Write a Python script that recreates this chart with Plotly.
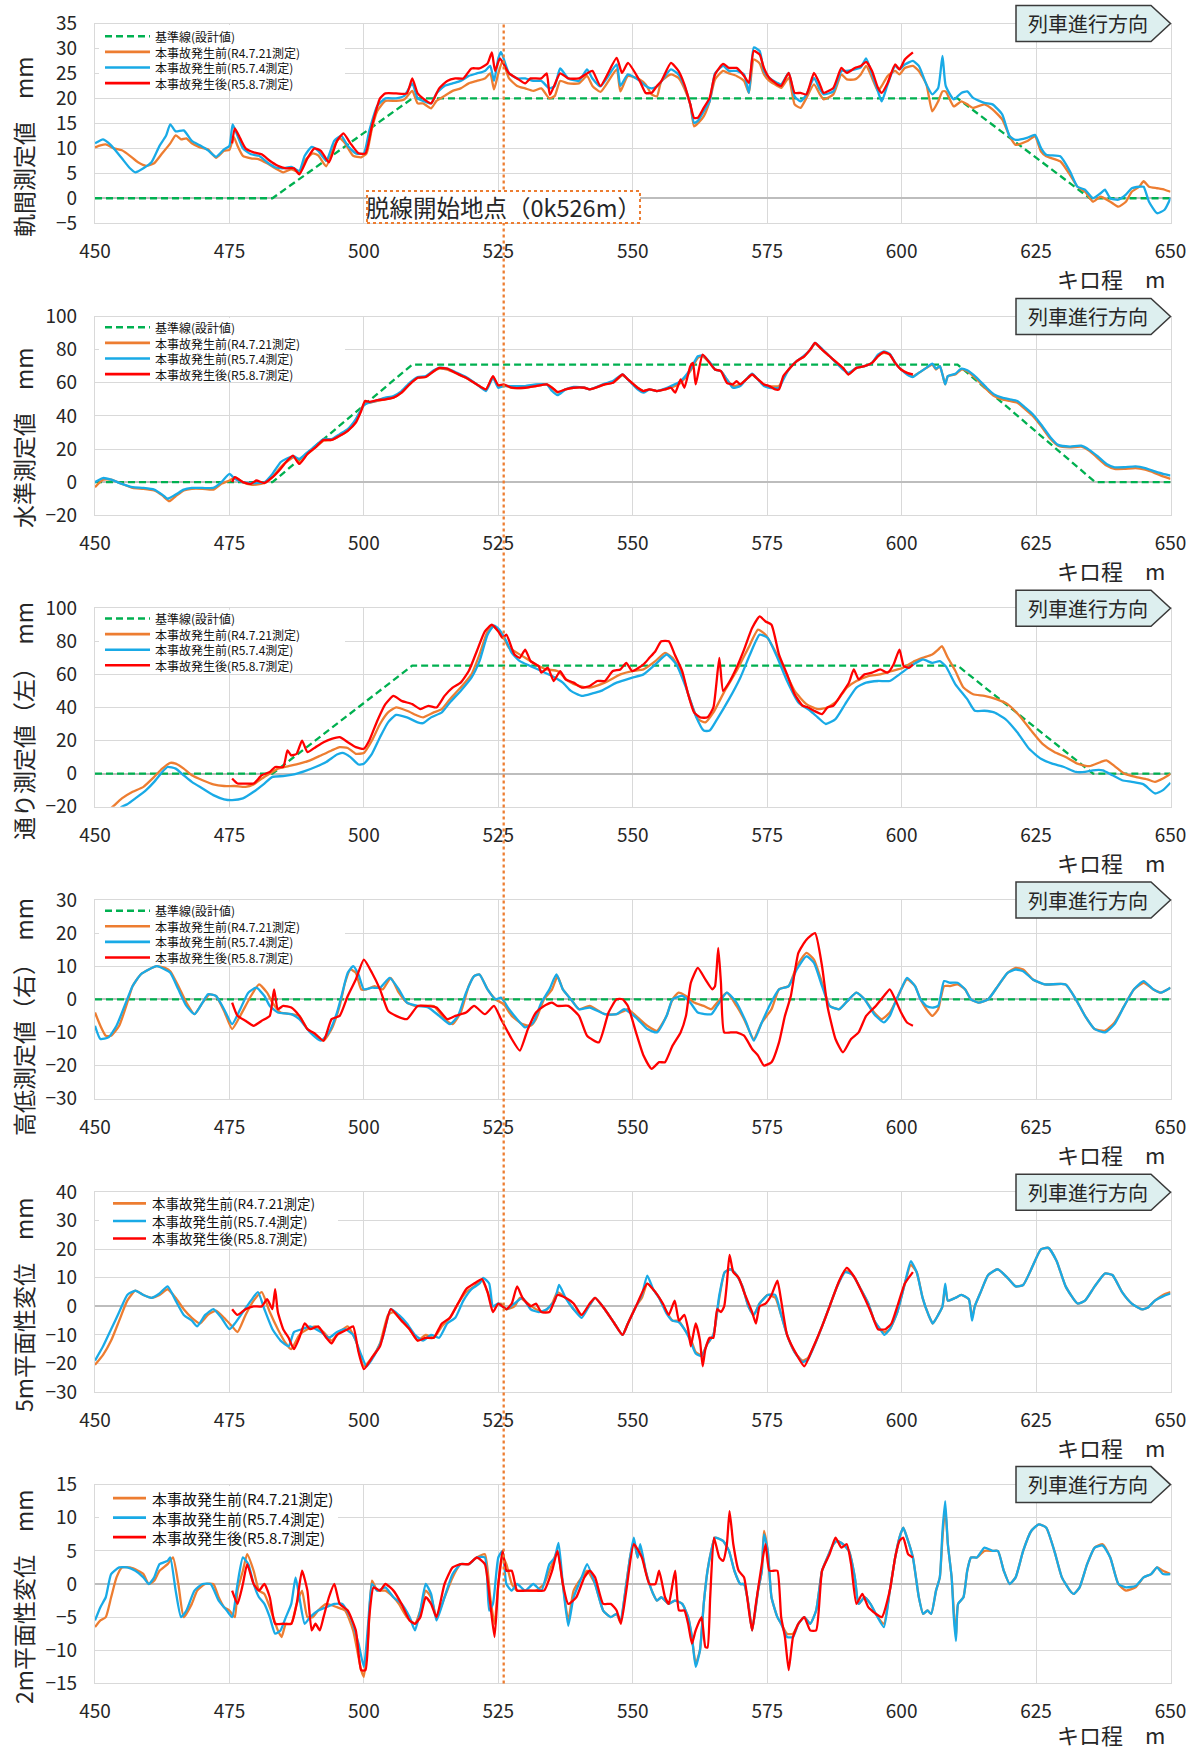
import plotly.graph_objects as go

# ---------------------------------------------------------------------------
# Track measurement data: (kilometrage m, measured value mm)
# ---------------------------------------------------------------------------
KM_TICKS = [450, 475, 500, 525, 550, 575, 600, 625, 650]

# --- 軌間 (gauge) ---
GAUGE_DESIGN = [(450, 0), (483, 0), (509, 20), (610.4, 20), (635, 0), (650, 0)]
GAUGE_R4 = [(450,10.2),(451,10.6),(452,10.8),(453.5,10.0),(455,9.6),(456.5,8.5),(458,7.2),(459.5,6.5),(461,7.0),(462.5,9.0),(464,11.0),(465,12.6),(466,11.8),(467,12.0),(468,11.0),(469.5,10.2),(471,9.8),(472.5,8.1),(474,9.5),(475,9.7),(475.8,12.3),(476.5,10.5),(477.5,8.5),(479,8.0),(480.5,7.8),(482,7.0),(483.5,6.0),(485,5.2),(486.5,5.8),(488,5.2),(489,7.5),(490.5,9.0),(491.5,8.6),(493,6.4),(494.5,10.5),(495.5,12.0),(496.5,11.0),(498,8.5),(499.5,8.2),(500.5,9.0),(501.5,14.0),(502.5,17.5),(504,19.5),(506,19.5),(507.5,19.8),(509,21.5),(510,19.0),(511,19.0),(512.5,18.0),(513.5,19.5),(515,20.5),(516.5,21.5),(518,22.0),(519.5,23.0),(521,23.5),(522.5,24.0),(523.5,25.0),(524.2,21.8),(525,25.0),(525.8,27.5),(527,24.0),(528.5,22.5),(530,22.0),(531.5,21.5),(533,22.0),(534.5,20.0),(535.5,20.5),(536.5,23.5),(538,23.0),(540,23.0),(541.5,24.5),(542.5,22.5),(544,21.3),(547,25.8),(547.7,21.4),(549.1,24.5),(551.3,23.8),(552.4,22.8),(553.5,20.8),(554.5,20.4),(555.3,23.4),(557.1,24.8),(558.5,24.1),(559.6,22.0),(560.7,18.8),(561.4,14.4),(562.1,15.0),(563.2,16.4),(564.3,19.4),(565.3,23.8),(566.8,25.5),(567.9,25.0),(569.3,24.5),(570.7,23.5),(571.6,21.1),(572.5,27.8),(573.6,27.0),(574.4,24.8),(575.4,23.5),(576.9,22.5),(577.6,22.1),(579.0,24.1),(580.1,18.8),(581.2,18.1),(582.3,20.1),(583.7,22.8),(584.8,20.8),(585.5,19.8),(587.3,20.8),(588.8,24.8),(589.8,23.8),(591.3,23.8),(592.4,24.8),(593.4,26.5),(594.5,24.1),(595.6,21.5),(596.3,22.5),(597.4,24.5),(598.8,25.5),(599.6,24.8),(600.6,26.1),(602.1,26.5),(603.2,25.5),(604.6,22.8),(605.7,17.4),(606.8,19.4),(607.6,21.4),(608.2,21.4),(609.7,18.4),(611.1,19.4),(612.2,18.8),(613.3,18.1),(615.4,18.8),(616.9,17.8),(618.7,15.8),(620.1,12.4),(621.2,10.7),(623.3,11.4),(624.8,12.4),(625.9,9.4),(626.9,8.4),(629.5,7.4),(631.3,4.7),(632.7,2.3),(634.1,1.3),(635.6,-0.7),(637.0,0.3),(638.8,-0.7),(640.3,-1.7),(641.7,-0.7),(642.8,1.3),(644.2,2.3),(645.0,3.4),(646.0,2.3),(647.5,2.0),(648.9,1.7),(650,1.3)]
GAUGE_R5_BEFORE = [(450,11.0),(451.5,11.8),(453,10.6),(455,8.0),(456.5,6.0),(457.5,5.2),(459,6.0),(460.5,7.2),(462,10.5),(463.2,12.5),(464,14.8),(465,13.4),(466.5,13.6),(468,11.5),(469.5,10.6),(471,9.6),(472.5,8.3),(474,9.8),(475,10.5),(475.6,14.8),(476.5,12.5),(477.5,10.0),(479,8.8),(480.5,8.5),(482,7.2),(483.5,6.2),(485,6.0),(486.5,6.3),(488,5.5),(489,8.5),(490.3,10.3),(491.5,9.5),(493,7.5),(494.5,11.5),(495.8,12.5),(497,10.5),(498.5,9.0),(500,9.0),(501,13.5),(502.5,18.5),(504,20.0),(506,20.0),(507.5,20.5),(509,23.0),(510,20.0),(511,19.5),(512.5,19.0),(513.5,21.0),(515,22.5),(516.5,23.0),(518,23.5),(519.5,24.5),(521,25.0),(522.5,25.5),(523.5,26.5),(524.2,23.5),(525,28.0),(525.5,29.3),(527,25.0),(528.5,24.0),(530,24.0),(531.5,23.5),(533,23.5),(534.5,22.0),(535.5,22.5),(536.5,26.0),(538,24.0),(540,23.5),(541.5,25.8),(542.5,24.0),(544,22.4),(547,26.8),(547.7,22.5),(549.1,24.8),(551.3,23.5),(552.4,22.5),(553.5,22.0),(554.5,22.4),(555.3,23.4),(557.1,25.8),(558.5,24.8),(559.6,22.5),(560.7,18.8),(561.4,15.1),(562.1,15.5),(563.2,17.4),(564.3,19.4),(565.3,25.0),(566.8,26.5),(567.9,25.5),(569.3,25.5),(570.7,24.8),(571.6,21.1),(572.5,30.2),(573.6,29.5),(574.4,25.5),(575.4,24.1),(576.9,23.1),(577.6,22.8),(579.0,25.1),(580.1,20.4),(581.2,19.4),(582.3,20.8),(583.7,24.1),(584.8,21.8),(585.5,20.8),(587.3,21.4),(588.8,25.5),(589.8,25.5),(591.3,25.8),(592.4,26.2),(593.4,28.0),(594.5,24.8),(595.6,21.4),(596.3,19.4),(597.4,22.8),(598.8,26.5),(599.6,25.8),(600.6,26.8),(602.1,27.5),(603.2,26.5),(604.6,22.8),(605.7,20.8),(606.8,22.1),(607.6,28.5),(608.2,22.5),(609.7,19.8),(611.1,21.1),(612.2,21.4),(613.3,20.1),(615.4,19.1),(616.9,18.8),(618.7,16.8),(620.1,12.4),(621.2,11.7),(623.3,12.1),(624.8,12.7),(625.9,10.1),(626.9,8.7),(629.5,8.4),(631.3,5.4),(632.7,2.3),(634.1,1.7),(635.6,0.0),(637.0,1.0),(637.8,1.7),(638.8,0.0),(640.3,-0.3),(641.7,0.7),(642.8,2.0),(644.2,2.3),(645.0,2.3),(646.0,-0.7),(647.5,-3.0),(648.9,-2.3),(650,0.0)]
GAUGE_R5_AFTER = [(475.5,11.0),(476,14.0),(477,12.0),(478,10.0),(479.5,9.2),(481,8.8),(482.5,7.5),(484,6.5),(485.5,6.0),(487,6.0),(488,4.8),(489.5,8.0),(490.8,10.0),(492,9.5),(493.5,7.2),(495,11.5),(496.2,13.0),(497.5,11.0),(499,9.0),(500.3,9.0),(501.5,14.5),(503,20.0),(504,21.0),(506,21.0),(508,21.0),(509,24.0),(510,21.0),(511,20.0),(512.5,19.0),(514,22.0),(515.5,23.5),(517,24.0),(518.5,24.0),(520,26.0),(521.5,26.0),(523,27.0),(523.8,29.2),(524.4,25.5),(525.3,28.0),(527,25.0),(528.5,24.0),(530,23.0),(531,24.0),(533,24.0),(534,25.0),(534.6,20.7),(536.5,25.0),(538,24.0),(540,24.0),(541.5,25.0),(542.5,25.5),(544,22.5),(547,28.1),(548,25.1),(549.1,27.1),(551.3,23.5),(552.4,21.1),(553.5,21.1),(554.5,22.5),(555.3,23.4),(557.1,27.1),(558.5,25.5),(559.6,22.8),(560.7,18.8),(561.4,16.1),(562.1,16.1),(563.2,18.1),(564.3,20.1),(565.3,24.8),(566.8,26.9),(567.9,26.1),(569.3,26.1),(570.7,24.5),(571.6,23.1),(572.5,29.5),(573.6,28.8),(574.4,26.1),(575.4,24.1),(576.9,22.8),(577.6,22.5),(579.0,25.1),(580.1,21.1),(581.2,21.1),(582.3,20.8),(583.7,25.1),(584.8,22.8),(585.5,21.1),(587.3,22.1),(588.8,26.1),(589.8,25.1),(591.3,26.1),(592.4,26.5),(593.4,27.3),(594.5,25.5),(595.6,22.1),(596.3,21.1),(597.4,23.1),(598.8,26.8),(599.6,25.8),(600.6,27.8),(602.1,29.2)]

# --- 水準 (cross level) ---
LEVEL_DESIGN = [(450, 0), (483, 0), (509, 71), (610.4, 71), (636, 0), (650, 0)]
LEVEL_R4 = [(450,-3),(451.5,1.5),(453,1.5),(455,-1),(457,-3.5),(459,-4),(461,-5),(462.5,-8),(463.8,-11.5),(465,-8.5),(466.5,-5),(468,-4),(470,-4),(472,-4.5),(473.5,-1),(475,1),(476,3),(477.5,0),(479,-1.5),(480,-1.5),(481.5,-0.5),(483,3),(484.5,9),(485.5,12),(487,15),(488,12),(489.5,17),(491,21),(492.5,25),(494,25.5),(495.5,28),(497,31),(498.5,37),(499.5,44),(500.2,48),(501,48),(502.5,49),(504,50),(505.5,51),(507,54),(508.5,59),(510,63),(511.5,63.5),(513,67),(514,68.5),(515.5,68),(517,66),(519,63),(521,59),(522.7,56),(524,63.5),(525,58),(526,58.5),(527.5,57),(530,57),(532,58),(534,59),(535,57),(536,54),(537.5,56),(539,57),(541,57),(542,56),(544.8,59),(546.3,60),(548.1,64.5),(549.1,62),(550.9,57),(552,55),(553.1,56),(554.5,55),(556,56),(557.1,57),(558.9,60),(560.7,67),(562.1,75),(563,76),(564.3,72),(565.3,68),(566.4,67),(567.5,62),(568.6,58),(570,59),(571.1,62),(572.2,65),(573.3,62),(574.4,59),(575.4,58),(577.2,58),(578,63),(579,68),(580.5,73),(581.9,76),(583,80),(583.9,83.5),(585.2,80),(586.6,76),(588,72),(589.1,69),(590.1,65),(591.6,69),(593.1,70),(594.5,72),(595.6,76),(596.7,78),(597.8,77),(598.8,72),(599.9,68),(601,66),(602.1,64),(603.2,66),(604.6,69),(605.7,71),(606.4,68),(607.1,70),(607.6,65),(608.1,59),(608.6,64),(610,65),(611.1,68),(612.2,67),(614,62),(615.8,56),(617.2,52),(618.7,50),(620.1,49),(621.5,48),(623,44),(624.4,40),(625.9,34),(627.7,26),(629.1,22),(631.3,21),(633.4,21.5),(634.9,19),(636.3,15),(638.1,10),(639.6,8),(641.4,8),(643.5,8.5),(645.3,7.5),(647.1,5.5),(648.6,3.5),(650,2)]
LEVEL_R5_BEFORE = [(450,0),(451.5,2.5),(453,1.5),(455,-1),(457,-3),(459,-3.5),(461,-4.5),(462.5,-7.5),(463.5,-10),(465,-7.5),(466.5,-4.5),(468,-3.5),(470,-3.5),(472,-3.5),(473.5,0),(475,5),(476,2),(477.5,0),(479,-0.5),(480,-0.5),(481.5,0),(483,5),(484.5,12),(485.5,14),(487,15.5),(488,14),(489.5,18),(491,22),(492.5,26),(494,26),(495.5,29),(497,32),(498.5,38),(499.5,44),(500.2,47),(501,48),(502.5,49.5),(504,51),(505.5,52),(507,55),(508.5,60),(510,63.5),(511.5,64),(513,67.5),(514,69),(515.5,68.5),(517,66.5),(519,63.5),(521,59),(522.7,55),(524,63),(525,57),(526,58),(527.5,58),(530,58),(532,59),(534,59),(535,55),(536,52.5),(537.5,56),(539,57.5),(541,57),(542,56),(544.8,59.5),(546.3,61),(548.1,65),(549.1,62),(550.9,56),(552,54),(553.1,56),(554.5,55),(556,56.5),(557.1,58),(558.9,61),(560.7,68),(562.1,76),(563,76.5),(564.3,72.5),(565.3,68),(566.4,67),(567.5,62),(568.6,57),(570,58),(571.1,62),(572.2,65.5),(573.3,62),(574.4,58),(575.4,57),(577.2,57),(578,62),(579,68),(580.5,73),(581.9,76.5),(583,80),(583.9,84),(585.2,80.5),(586.6,76),(588,71.5),(589.1,68),(590.1,66),(591.6,69),(593.1,70),(594.5,72),(595.6,77),(596.7,79),(597.8,77.5),(598.8,72),(599.9,68),(601,65),(602.1,63.5),(603.2,66),(604.6,69),(605.7,71.5),(606.4,68.5),(607.1,70),(607.6,65),(608.1,59),(608.6,64),(610,65.5),(611.1,68.5),(612.2,67.5),(614,63),(615.8,57),(617.2,53),(618.7,51),(620.1,50),(621.5,49),(623,45),(624.4,41),(625.9,35),(627.7,27),(629.1,22.5),(631.3,21.5),(633.4,22),(634.9,19.5),(636.3,16),(638.1,11),(639.6,9),(641.4,9),(643.5,9.5),(645.3,8.5),(647.1,6.5),(648.6,5),(650,4)]
LEVEL_R5_AFTER = [(475.5,0),(476,3),(477.5,0),(479,-1),(480,1),(481.5,-0.5),(483,3),(484.5,8),(485.5,12),(486.8,16),(488,11),(489.5,17),(491,21),(492.5,25.5),(494,25.5),(495.5,28),(497,31),(498.5,36),(499.5,43),(500.2,49),(501,48.5),(502.5,49.5),(504,50),(505.5,51),(507,54),(508.5,59),(510,63),(511.5,63.5),(513,67),(514,69),(515.5,68.5),(517,66),(519,63),(521,59),(522.7,56),(524,64),(525,58.5),(526,59),(527.5,57),(530,57),(532,58),(534,59),(535,57),(536,54.5),(537.5,56),(539,57),(541,57),(542,56),(544.8,59),(546.3,60),(548.1,65),(549.1,62),(550.9,57),(552,55),(553.1,56),(554.5,55),(556,56),(557.1,57),(557.9,54),(558.9,62),(559.6,57),(560.7,70),(561.2,72),(561.7,59),(563,77),(564.3,72),(565.3,68),(566.4,67),(567.5,60),(568.6,59),(569.3,61),(570,59),(571.1,62),(572.2,65),(573.3,62),(574.4,59),(575.4,58),(576.5,56),(577.2,56),(578,64),(579,68),(580.5,73),(581.9,76),(583,80),(583.9,84),(585.2,80),(586.6,76),(588,72),(589.1,69),(590.1,65),(591.6,69),(593.1,70),(594.5,72),(595.6,76),(596.7,78.5),(597.8,77),(598.8,72),(599.9,68),(601,66),(602.1,65)]

# --- 通り(左) (alignment, left rail) ---
ALIGN_DESIGN = [(450, 0), (483, 0), (509, 65.3), (610.4, 65.3), (635.6, 0), (650, 0)]
ALIGN_R4 = [(452,-23.5),(453.3,-20),(455,-15),(457,-11),(459,-8),(461,-2),(462.5,3),(464,6.5),(465,6),(466.5,3),(468,-1),(470,-4),(472,-6.5),(474,-7.5),(476,-7.5),(478,-8),(479.5,-6.5),(481,-3),(482.5,0),(484,3),(486,4.5),(488,6),(490,8),(492,11),(494,14),(495.5,16),(497,15.5),(498.5,12),(500,12.5),(501.5,20),(503,30),(504.5,37),(506,40),(508,38),(510,35),(511,34),(513,37),(514.5,39),(516,45),(518,52),(520,60),(521.5,72),(523,86),(524,89),(525,86),(526,82),(527,76),(528.5,73),(530,70),(532,66),(534,63),(536,62),(538,56),(540,53),(542,52),(544.8,55),(547.7,60),(549.9,62),(552,63),(554.2,68),(556,73),(557.4,70),(559.2,60),(560.7,44),(562.1,33),(563.5,31),(565,37),(567.1,50),(569.3,62),(571.5,76),(573.3,87),(574.7,84),(576.5,74),(578.3,62),(580.1,50),(582.3,42),(584.4,39),(586.2,40),(588,44),(589.8,52),(591.6,56),(593.8,59),(596,60),(598.1,62),(600.3,64),(602.4,68),(603.9,70),(605.7,72),(606.8,75),(607.5,77),(608.6,70),(610,62),(611.5,52),(613.3,48),(615.4,47),(617.6,45),(619.7,42),(621.9,35),(624.1,26),(626.2,18),(628.4,13),(630.5,10),(632.7,6),(634.9,4.5),(637,7),(638.1,8),(639.6,4.5),(641.4,0),(643.5,-2),(645.7,-3.5),(647.1,-5),(648.6,-3),(650,0)]
ALIGN_R5_BEFORE = [(454,-23),(455,-20),(456,-18.5),(457.5,-15),(459.5,-10),(461,-5),(462.5,1),(463.5,4),(465,3),(466.5,-1),(468,-5),(470,-9),(472,-13),(474,-15.5),(475.5,-16),(477.5,-15),(479.5,-11),(481.5,-6),(483,-2),(485,-1.5),(487,-0.5),(489,1.5),(491,4),(493,7),(495,11.5),(496,12.5),(497.5,10),(499,5.5),(500,6),(501.5,12),(503,22),(504.5,31),(506,35.5),(508,34),(510,31),(511,30.5),(512.5,34),(514.5,37),(516,43),(518,50),(520,58),(521.5,68),(523,84),(524.2,89.5),(525.2,87),(526.5,80),(527.5,73),(529,68),(531,65),(533,62),(535,59),(537,55),(538.5,50),(540.5,47),(542.5,48.5),(544.1,50),(547,55),(549.9,58),(552,60),(554.2,66),(556.3,72),(558.1,66),(559.9,52),(561.7,35),(563.2,26),(564.3,26),(565.7,33),(567.9,45),(570,58),(571.8,72),(573.6,84),(575.1,82),(576.9,70),(578.7,56),(580.8,43),(583,38),(584.4,34),(585.9,30),(587.7,33),(589.5,42),(591.6,52),(593.4,55),(595.6,56),(597.8,56),(599.6,60),(601.7,65),(603.9,69),(605.7,67),(607.1,68),(608.2,65),(610,54),(612.2,45),(613.6,38),(615.4,38),(617.2,37),(619.3,33),(621.5,25),(623.7,15),(625.9,9),(628,6),(630.2,4),(632.4,1),(634.1,1),(635.6,2),(637.4,2),(639.2,-1),(641,-4),(642.8,-5),(645,-6.5),(647.1,-12),(648.6,-10),(650,-5.5)]
ALIGN_R5_AFTER = [(475.5,-3),(476.5,-6),(478,-6),(479.5,-6),(481,-1),(482.5,1),(483.5,4),(485,4),(485.8,14),(486.5,11),(487.5,12),(488.5,20),(489.5,13),(491,16),(492.5,19),(494,21),(495.5,22),(497,19),(498.5,16),(500,15),(501,20),(502.5,32),(504,42),(505.5,47),(507,44),(509,42),(510.5,39),(512,41),(513.5,40),(515,47),(516.5,52),(518,55),(519.5,62),(521,74),(522.5,86),(523.8,90),(525,86),(525.8,82),(526.5,84),(528,72),(529,70),(530,75),(531,68),(532.5,65),(533,61),(534.2,64),(535.3,56),(536.5,62),(537.5,57),(539,55),(540.5,52),(542,53),(543.4,56),(544.8,56),(546.3,62),(547.7,63),(548.8,67),(549.9,62),(552,66),(553.1,70),(554.2,74),(555.3,80),(556.7,80),(557.8,72),(559.2,62),(560.3,48),(561.4,37),(562.5,34),(563.9,34),(565,40),(566.1,70),(566.8,50),(567.9,55),(569.3,64),(570.7,75),(572.2,88),(573.6,95),(574.7,92),(575.8,90),(577.2,72),(578.7,60),(580.1,48),(581.6,41),(582.6,40),(583.7,38),(585.2,36),(586.2,40),(587.3,41),(588.8,48),(590.2,55),(591.1,63),(592,57),(593.1,60),(594.5,61),(596,63),(597.4,61),(598.5,66),(599.6,75),(600.4,65),(601.4,64),(602.1,66)]

# --- 高低(右) (longitudinal level, right rail) ---
SURFACE_DESIGN = [(450, 0), (650, 0)]
SURFACE_R4 = [(450,-4),(451,-8),(452,-11),(453,-11),(454.5,-8),(456,-1),(457,4),(458.5,7.5),(460,9),(461.5,10),(463,9.5),(464,8.5),(465.5,4),(467,-1),(468.5,-4.5),(470,-1),(471.3,1.5),(472.5,1),(474,-3.5),(475.5,-9),(477,-5),(479,1),(480.5,4.5),(482,2),(483,-1),(484.5,-4),(486.5,-4.5),(488,-5),(489.5,-9),(491,-11),(492.5,-12.5),(494,-9),(495.5,-2),(496.5,5),(497.5,9),(498.5,8),(499.5,3),(500.5,3),(502,4),(503.5,3),(505,6.5),(506.5,2),(508,-1),(509.5,-2),(511,-2),(513,-2),(515,-6),(516.5,-7.5),(518,-4),(519.5,4),(520.5,7),(521.5,7.5),(523,3),(524.5,0),(526,-1.5),(527.5,-5),(529.5,-7.5),(531,-8),(532,-6),(533.5,0),(535,3),(536,7),(537,3),(538.5,0),(540,-3),(542,-2),(544.8,-4.5),(547,-4.5),(548.4,-3.5),(549.1,-3),(550.6,-5),(552.7,-8),(554.5,-9.5),(556.3,-5),(557.4,0),(558.5,2),(559.9,1),(561.4,-1),(563.2,-2),(564.6,-3),(565.7,-1),(567.5,2),(569.3,-2),(570.7,-6),(572.5,-12),(574,-7),(575.8,-3),(577.2,3),(579,4),(580.5,10),(582.3,14),(583.7,12),(585.2,5),(586.6,-2),(588.4,-3),(590.2,0),(591.6,2),(593.1,0),(594.9,-4),(596.3,-6),(597.8,-4),(598.8,-1),(599.9,3),(601,6),(602.5,4),(603.5,0),(604.6,-3),(605.7,-5),(606.8,-3),(607.9,4),(609,4),(610.4,4.5),(611.8,3),(612.9,0),(614.3,-1),(616.1,0),(617.9,4),(619.7,8),(621.2,9.5),(622.6,9),(624.4,6),(626.6,4.5),(630.5,4.5),(632.4,0),(634.1,-5),(635.9,-9),(637.8,-9.5),(639.6,-7),(641.4,-2),(643.2,3),(645,5),(646.8,3),(648.2,2),(650,3.5)]
SURFACE_R5_BEFORE = [(450,-8),(451,-12),(452.5,-11.5),(454,-8),(455.5,-2),(457,4),(458.5,7.5),(460,9),(461.5,10),(463,9),(464,8),(465.5,3),(467,-2),(468.5,-4.5),(470,-1),(471,1.5),(472.5,1),(474,-3),(475.5,-7.5),(477,-3),(478.5,2),(480,3.5),(481.5,1),(482.5,-2),(484,-4),(486.5,-4.5),(488,-6),(490,-10),(492,-12.5),(493.5,-10),(495,-4),(496,2),(497,8),(498,10),(499,7.5),(500,3),(501.5,3.5),(503,3.5),(504.8,6.5),(506.5,3),(508,-1),(510,-2),(512,-2.5),(514,-5),(516,-7.5),(517.5,-5),(519,2),(520.5,7),(521.5,7.5),(523,3),(524.5,0),(525.5,0.5),(527,-3),(528.5,-6),(530,-8.5),(531.5,-7),(533,-1),(534.5,3),(535.8,7.5),(537,3),(538.5,0),(540,-3),(542,-2.5),(544.8,-4.5),(547,-4.5),(548.4,-3),(550.6,-5.5),(552.7,-9),(554.5,-10),(556.3,-5),(557.4,0),(559.2,1),(560.7,-1),(562.1,-4),(564.6,-4.5),(565.7,-2),(567.5,2),(569.3,-1),(571.1,-7),(572.5,-12.5),(574,-7),(575.4,-2),(577.2,3),(579,4),(580.5,9),(582.3,13),(583.7,11),(585.2,4),(586.6,-2),(588.4,-3),(590.2,0),(591.6,2),(593.1,0),(594.9,-4.5),(596.7,-7),(597.8,-5),(598.8,-1),(599.9,3),(601,6.5),(602.5,4),(603.5,0),(604.6,-2),(605.7,-2.5),(606.8,-2),(607.9,5.5),(609,5),(610.4,5),(611.8,3),(612.9,0),(614.3,-1),(616.1,0),(617.9,4),(619.7,8),(621.2,9),(622.6,8.5),(624.4,6),(626.6,4.5),(630.5,4.5),(632.4,0),(634.1,-5),(635.9,-9),(637.8,-10),(639.6,-7.5),(641.4,-2),(643.2,3),(645,5.5),(646.8,3),(648.2,2),(650,3.5)]
SURFACE_R5_AFTER = [(475.5,-1),(476.5,-5),(478,-6.5),(479.5,-8),(481,-6.5),(482.5,-5),(483.3,3),(484,-3),(485,-2),(486.5,-2.5),(488,-5),(489.5,-9),(491,-10.5),(492.5,-12.5),(494,-6),(495.5,-5),(497,1),(498.5,6),(500,12),(501.5,8),(503,3),(504.5,-3.5),(506,-5),(508,-6),(510,-2),(511.5,-2),(513.5,-2.5),(515.5,-6),(517,-5),(519,-4),(520.5,-2),(522.5,-4.5),(524.2,-2),(525.5,-6),(527.5,-12),(529,-15.5),(530.5,-9),(532,-4),(533.5,-2),(535,-1),(536,-2),(538,-2),(540,-5),(541.5,-11),(543.7,-13),(545.5,-4),(547,0),(548.1,0),(549.1,-2),(550.6,-10),(552,-17),(553.5,-21),(554.9,-19),(556,-19),(557.4,-14),(558.9,-10),(559.9,-5),(560.8,5),(562.1,9.5),(563.5,6),(564.8,3),(565.3,4),(565.9,15.5),(566.4,5),(567,-10),(568.2,-10),(569.3,-10),(570.7,-11),(572.2,-15),(573.3,-17),(574.4,-20),(575.8,-19),(577.2,-13),(578.3,-5),(579.4,1),(580.8,14),(582.3,18),(583.9,20),(585.2,10),(586.2,-2),(587.7,-12),(589.1,-16),(590.6,-12),(592,-10),(593.4,-5),(595.2,-2),(596.7,1),(597.8,3),(598.8,0),(599.9,-4),(601,-7),(602.1,-8)]

# --- 5m平面性 (5 m twist) ---
TWIST5_R4 = [(450,-20.5),(451.5,-17),(453,-12),(454.5,-5),(456,2),(457.5,5.5),(459,4),(460.5,3),(462,4),(463.5,6),(465,3),(466.5,-1),(468,-4),(469.5,-6),(471,-3),(472.5,-1.5),(474,-4),(475.5,-7),(476.5,-9),(478,-3),(479.5,2),(481,5),(482.5,-2),(484,-8),(485.5,-13),(486.5,-15),(488,-10),(489.5,-8),(491,-7),(492.5,-9),(494,-12),(495.5,-9),(497,-7),(498.5,-12),(500,-21),(501.5,-18),(503,-13),(504.5,-3),(505.5,-2),(507,-5),(508.5,-8),(510,-12),(511.5,-10),(513,-11),(514.5,-7),(516,-4),(517.5,1),(519,5),(520.5,7),(522,9),(523,5),(524,0),(525.5,1),(526.5,-1),(528,0),(529,3),(530.5,1),(532,-1),(533.5,-2),(535,1),(536,5),(537.5,3),(539,-1),(540.5,-3),(542,0.5),(543,3),(544.8,-1),(546.6,-6),(548.1,-10),(549.1,-6),(550.6,0),(551.7,3),(552.7,8),(553.8,6),(554.9,3),(556.3,-2),(557.4,-5),(558.5,-5),(559.6,-8),(560.7,-11),(561.7,-16),(562.8,-17),(563.9,-13),(565,-10),(566.1,3),(567.1,12),(568.2,13),(569.3,11),(570.4,7),(571.5,0),(572.5,-3),(573.6,1),(575.1,4),(576.5,3),(577.6,-3),(578.7,-10),(580.1,-16),(581.6,-19),(582.6,-18),(583.7,-14),(585.2,-7),(586.6,0),(588,7),(589.5,12.5),(590.9,11),(592.4,6),(593.8,1),(594.9,-5),(596,-8),(596.8,-9),(597.8,-8),(599.2,-2),(600.6,8),(601.7,14.5),(602.8,12),(603.9,3),(605,-3),(605.8,-6),(606.8,-3),(607.6,0),(608.1,7),(608.6,2),(610,3),(611.1,4),(612.5,2.5),(613.1,-4),(613.6,0),(614.7,5),(616.1,11),(617.9,13),(619.7,10),(621.2,7),(622.6,7.5),(624.1,13),(625.9,20),(627.3,20.5),(628.8,16),(630.5,7),(632.7,1),(634.1,2),(635.9,7),(637.8,11.5),(639.2,11),(641,5),(642.8,1),(644.6,-1),(645.7,-0.5),(647.1,2),(648.6,4),(650,5)]
TWIST5_R5_BEFORE = [(450,-19),(451.5,-14),(453,-8),(454.5,-2),(456,4),(457.5,5.5),(459,4),(460.5,3),(462,4.5),(463.5,7),(465,2),(466.5,-3),(468,-5),(469,-7),(470.5,-3),(472,-1),(473.5,-4),(475,-8),(476,-6),(477.5,-2),(479,2),(480.3,5),(481.5,-1),(483,-8),(484.5,-12),(486,-14),(487,-9),(488.5,-8),(490,-7),(492,-9),(493.5,-11),(495,-9),(496.5,-8),(498,-10),(499.5,-17),(500.5,-21),(502,-17),(503.5,-11),(505,-1),(506.5,-3),(508,-6),(509.5,-10),(511,-12),(512.5,-10),(514,-11),(515.5,-6),(517,-4),(518.5,2),(520,6),(521.5,8),(522.2,10),(523.3,8),(524,0),(525,1),(526.5,-1),(528,1),(529.5,3),(531,-1),(532.5,-2),(534,-1),(535.5,2),(536.3,7.5),(537.5,3),(539,-1),(540.5,-4),(542,0.5),(543,3),(544.8,-1),(546.6,-6),(548.1,-10),(549.1,-6),(550.6,0),(551.7,4),(552.7,10.8),(553.8,6),(554.9,3),(556.3,-2.5),(557.4,-5),(558.5,-5.5),(559.6,-8),(560.7,-12),(561.7,-16.5),(562.8,-17.5),(563.9,-13),(565,-10),(566.1,4),(567.1,12),(568.2,13),(569.3,11),(570.4,7),(571.5,0),(572.5,-3),(573.6,1),(575.1,4),(576.5,4),(577.6,-3),(578.7,-10),(580.1,-16),(581.6,-19.5),(582.6,-18.5),(583.7,-14),(585.2,-7),(586.6,0),(588,7),(589.5,12),(590.9,11),(592.4,6),(593.8,1),(594.9,-5),(596,-8),(596.8,-10),(597.8,-8),(599.2,-2),(600.6,8),(601.7,15.8),(602.8,12),(603.9,3),(605,-3),(605.8,-6),(606.8,-3),(607.6,0),(608.1,8),(608.6,2),(610,3),(611.1,4),(612.5,2.5),(613.1,-5),(613.6,0),(614.7,5),(616.1,11),(617.9,13),(619.7,10),(621.2,7),(622.6,7.5),(624.1,13),(625.9,20),(627.3,20.5),(628.8,16),(630.5,7),(632.7,1),(634.1,2),(635.9,7),(637.8,11.5),(639.2,11),(641,5),(642.8,1),(644.6,-1),(645.7,-0.5),(647.1,2),(648.6,3.5),(650,4.5)]
TWIST5_R5_AFTER = [(475.5,-1),(476.5,-3),(478,-1),(479.5,0),(481,0),(482,2.5),(482.7,0),(483,-1),(483.5,6),(484,-2),(485,-8),(486,-11),(487,-15),(488,-11),(489,-6),(490,-8),(491.5,-7),(493,-11),(494,-13),(495,-10),(497,-8),(498,-7),(499,-16),(500,-22),(501.5,-18),(503,-14),(504,-7),(505,-1),(507,-5),(508.5,-8),(510,-12),(511.5,-11),(513,-11),(514.5,-6),(516,-4),(517.5,1),(519,6),(520.5,8),(522,9.5),(523,5),(524,-2),(525,1),(526.5,-1),(527.5,1),(528.5,7),(529.5,3),(531,0),(532,1),(533,-2),(534.5,-2),(536,4),(537.5,3),(539,1),(540.5,-3),(542,1),(543,3),(544.8,-1),(546.6,-6),(548.1,-10),(549.1,-6),(550.6,0),(552.7,8),(554.2,5),(555.6,1),(556.7,-3),(557.8,2),(558.6,-5),(559.6,-3),(560.3,-8),(560.8,-14),(561.7,-6),(562.5,-12),(563,-21),(563.5,-15),(564.3,-11),(565,-11),(565.7,-1),(566.4,-2),(567,0),(567.5,8),(568,18),(568.7,12),(569.7,10),(570.7,5),(572.2,-2),(572.9,-6),(573.6,0),(574.7,1),(575.8,4),(576.9,9),(577.6,2),(578.7,-10),(580.5,-17),(581.9,-21),(583.4,-15),(585.2,-7),(587,2),(588.4,9),(589.8,13.5),(591.3,10),(593.1,3),(594.5,-3),(595.6,-8),(597,-8),(598.1,-6),(599.2,0),(600.6,8),(602.1,12)]

# --- 2m平面性 (2 m twist) ---
TWIST2_R4 = [(450,-6.5),(451,-5.5),(452,-5),(453,-2),(454,1),(455,2.5),(456.5,2.5),(458,2),(459,1.5),(460,0),(461,0.5),(462,2),(463.5,3),(464.5,4),(465.5,0),(466.5,-5),(468,-3),(469,-1),(470.5,0),(472,0),(473,-2),(474,-3.5),(475,-4),(476,-5),(476.5,-1),(477.5,2),(478.3,4.5),(479.5,2),(480.5,-1),(481.5,-1.5),(482.5,-3.5),(484,-7),(484.7,-8),(485.5,-6),(486.5,-6),(487.5,-3),(488.5,-1),(489.5,-5),(490.5,-5),(491.5,-4),(493,-3),(495,-3.5),(496.5,-4),(498,-7),(499.5,-13),(500,-14),(500.8,-8),(501.5,0.5),(502.5,-1),(504,-1),(505.5,-2),(506.5,-3),(508,-5),(509.5,-6),(510.5,-4),(511.5,-1),(512.5,-2),(513.5,-5),(515,-2),(516.5,1),(518,3),(519.5,3),(521,4),(522.5,4.5),(523.5,-2),(524.3,-6),(525,0),(525.8,4),(526.5,3),(527.5,0),(528.5,-1),(530,-1),(532,-1),(533.5,0),(535,3),(536,5),(537,0),(538,-5.5),(539,-1),(540.5,1),(541.5,2),(543,0),(544.5,-4),(545.9,-5),(547,-4.5),(547.7,-5.8),(548.8,0),(549.5,4),(550.2,6.5),(550.9,4),(551.4,5.5),(552.4,2),(553.1,0),(553.8,-1.5),(554.5,-2.5),(555.3,-2),(556,-2.5),(556.7,-3),(557.8,-2.5),(559.2,-3),(560.3,-5),(561,-8),(561.7,-12),(562.5,-10),(563.2,-3),(563.9,2),(564.6,5),(565.3,7),(566.8,6.5),(567.9,5),(568.9,2),(570,0),(570.7,0),(571.5,-3),(572.2,-7),(573.3,-1),(574,2),(574.4,8),(575.1,5),(575.8,-2),(576.9,-5),(577.6,-6),(578.7,-7.5),(579.8,-7.5),(580.8,-6),(581.9,-5),(583,-6),(584.1,-4),(585.2,2),(586.2,4),(587.3,6),(588,6.5),(589.1,6),(590.2,5),(591.3,1),(592,-3),(593.1,-2),(594.2,-3),(595.2,-4.5),(596.7,-6),(597.8,-1),(598.8,4),(599.6,7),(600.3,8.5),(601,7),(602.1,4),(603.2,-2),(604,-4.5),(604.8,-4),(605.5,-4.5),(606.4,-1),(607.1,1),(607.6,7),(608.1,11.5),(608.6,6),(609.3,1),(609.7,-4),(610.1,-8),(610.5,-3),(611.5,-2),(612.2,2),(612.9,4),(614,4),(615.4,5),(616.9,5),(617.9,5),(619,2),(620.1,0),(621.2,1),(622.6,5),(624.1,8),(625.5,9),(626.9,8.5),(628.4,5),(629.8,1),(631.3,-1),(632,-1.5),(633.1,-0.5),(634.5,3),(635.9,5.5),(637.4,6),(638.8,4),(640.3,0),(641.7,-1),(643.5,-0.5),(645,1),(646.4,1.5),(647.5,2.5),(648.6,2),(650,1.5)]
TWIST2_R5_BEFORE = [(450,-5.5),(451,-3.5),(452,-2),(453,1.5),(454.5,2.5),(456,2.5),(457.5,2),(459,1),(460,0),(461,1),(462,3),(463.5,3.5),(464,4),(465,-1),(466,-5),(467,-4),(468.5,-1),(470,0),(471.5,0),(473,-2.5),(474.5,-4),(475.5,-5),(476.5,0),(477.5,4),(478.5,3),(479.5,0),(480.5,-2),(481.5,-3),(482.5,-5),(483.5,-7.5),(484.5,-7),(485.5,-5),(486.5,-3),(487.3,1),(488,-2),(489,-6),(490,-5),(491.5,-4),(493,-3.5),(494.5,-3),(496,-3),(497.5,-5),(499,-9),(500,-12.5),(500.8,-6),(501.5,0),(502.5,-1),(504,-0.5),(505.5,-2),(507,-3),(508.5,-5),(509.5,-7),(510.5,-4),(511.5,0),(512.5,-1.5),(513.5,-5.5),(515,-2),(516.5,1.5),(518,3),(519.5,3),(521,4),(522.5,4),(523.3,-4),(524,-3),(525,4),(525.8,5),(526.5,0),(527.5,-1),(528.5,0),(530,-1),(531.5,0),(533,-1),(534.5,3),(535.5,4),(536.2,6.2),(537,0),(538,-6.3),(539,-2),(540.5,1),(541.5,3),(543,0),(544.5,-4),(545.9,-5),(547,-4.5),(547.7,-5.5),(548.8,0),(549.5,4),(550.2,7),(550.9,4),(551.4,6),(552.4,2),(553.1,0),(553.8,-1.5),(554.5,-2.5),(555.3,-2),(556,-2.5),(556.7,-3),(557.8,-2.5),(559.2,-3),(560.3,-5),(561,-8),(561.7,-12.5),(562.5,-10),(563.2,-3),(563.9,2),(564.6,5),(565.3,7),(566.8,6.5),(567.9,5),(568.9,2),(570,0),(570.7,0),(571.5,-3),(572.2,-7),(573.3,-1),(574,2),(574.4,7.5),(575.1,5),(575.8,-2),(576.9,-5),(577.6,-6),(578.7,-8),(579.8,-8),(580.8,-6),(581.9,-5),(583,-6),(584.1,-4),(585.2,2),(586.2,4),(587.3,6),(588,6.5),(589.1,6),(590.2,5),(591.3,1),(592,-3),(593.1,-2),(594.2,-3),(595.2,-4.5),(596.7,-6.5),(597.8,-1),(598.8,4),(599.6,7),(600.3,8.5),(601,7),(602.1,4),(603.2,-2),(604,-4.5),(604.8,-4),(605.5,-4.5),(606.4,-1),(607.1,1),(607.6,8),(608.1,12.5),(608.6,6),(609.3,1),(609.7,-5),(610.1,-8.6),(610.5,-3),(611.5,-2),(612.2,2),(612.9,4),(614,4),(615.4,5.5),(616.9,5),(617.9,5),(619,2),(620.1,0),(621.2,1),(622.6,5),(624.1,8),(625.5,9),(626.9,8.5),(628.4,5),(629.8,1),(631.3,-1),(632,-1.5),(633.1,-0.5),(634.5,3),(635.9,5.5),(637.4,5.8),(638.8,4),(640.3,0),(641.7,-0.5),(643.5,-0.3),(645,1),(646.4,1.5),(647.5,2.5),(648.6,1.5),(650,1.5)]
TWIST2_R5_AFTER = [(475.5,-1),(476.5,-3),(477.5,0),(478.3,3),(479.5,0),(480.5,-1),(481.5,0),(482.5,-2),(483.5,-6),(485,-6),(486.5,-6),(487.5,-3),(488.5,2),(489.5,-1),(490.3,-7),(491,-6),(491.8,-7),(492.5,-5),(493.5,-2),(494.5,0),(495.5,-3),(497,-4),(498.5,-7),(499.5,-13),(500.3,-13),(501,-5),(501.8,-0.5),(503,-1),(504,0),(505.5,-1),(507,-3),(508.5,-5.5),(509.5,-6),(510.5,-5),(511.5,-2),(512.5,-3),(513.5,-5),(515,0),(516.5,2.5),(518,3),(519.5,3),(521,4),(522.5,3),(523.5,-3),(524.3,-8),(525,0),(525.8,5),(526.5,2),(527.5,2),(528.5,-1),(530,-1),(532,-1),(533.5,-1),(535,2),(536,5),(537,0),(538,-3),(539.5,-2),(541,1),(542,2),(543,1),(544.5,-3),(545.9,-3),(547,-4),(547.8,-6),(548.8,-1),(550.2,6),(551.7,4),(553.1,0),(554.2,0),(554.9,2),(556,-2),(556.7,-3),(557.4,0),(557.9,2),(558.6,-4),(559.6,-4),(560.3,-6),(561,-9),(561.7,-7),(562.8,-5),(563.5,-9.5),(563.9,-9.6),(564.4,-2),(565.1,7),(566.1,4),(566.8,3.5),(567.5,6),(568,11),(568.7,6),(569.7,2),(570.7,1),(571.6,-4),(572.2,-7),(572.9,-3),(574,3),(574.7,6),(575.4,2),(576.2,2),(576.9,2),(577.6,-5),(578.3,-8),(579,-13),(579.8,-8),(580.8,-6),(581.9,-5),(583,-7),(584.1,-7),(585.2,2),(586.6,4.5),(587.7,7),(588.8,5.5),(589.8,6),(590.6,3),(591.6,-3),(592.7,-1.5),(593.8,-3.5),(595.2,-4.5),(596.3,-5),(597.8,-1),(598.8,4),(599.6,6.5),(600.3,7),(601.2,4.5),(602.1,4)]

SERIES_NAMES = ["基準線(設計値)", "本事故発生前(R4.7.21測定)", "本事故発生前(R5.7.4測定)", "本事故発生後(R5.8.7測定)"]
DERAIL_KM = 526

# ---------------------------------------------------------------------------
# Styling
# ---------------------------------------------------------------------------
W, H = 1197, 1749
FONT = "Noto Sans CJK JP"
TXT = "#262626"
GRID = "#D9D9D9"
ZERO = "#BDBDBD"
C_DESIGN, C_R4, C_R5B, C_R5A = "#00B050", "#ED7D31", "#19AAE6", "#FF0000"
DESIGN_DASH = "7px,4px"
PLOT_L, PLOT_R = 95.0, 1170.5
LINE_SPACING = 1.3  # plotly's line height factor for multi-line text


def px(x):
    return x / W


def py(y):
    return 1 - y / H


PANELS = [
    dict(title="軌間測定値　mm", rng=(-5, 35), dtick=5, top=23.5, bottom=223.2, title_y=147,
         design=GAUGE_DESIGN, r4=GAUGE_R4, r5b=GAUGE_R5_BEFORE, r5a=GAUGE_R5_AFTER,
         leg_first=12.8, leg_font=12),
    dict(title="水準測定値　mm", rng=(-20, 100), dtick=20, top=316.5, bottom=515.3, title_y=438,
         design=LEVEL_DESIGN, r4=LEVEL_R4, r5b=LEVEL_R5_BEFORE, r5a=LEVEL_R5_AFTER,
         leg_first=10.8, leg_font=12),
    dict(title="通り測定値（左）　mm", rng=(-20, 100), dtick=20, top=608.2, bottom=806.7, title_y=721,
         design=ALIGN_DESIGN, r4=ALIGN_R4, r5b=ALIGN_R5_BEFORE, r5a=ALIGN_R5_AFTER,
         leg_first=10.3, leg_font=12),
    dict(title="高低測定値（右）　mm", rng=(-30, 30), dtick=10, top=900.0, bottom=1098.6, title_y=1017,
         design=SURFACE_DESIGN, r4=SURFACE_R4, r5b=SURFACE_R5_BEFORE, r5a=SURFACE_R5_AFTER,
         leg_first=10.7, leg_font=12),
    dict(title="5m平面性変位　mm", rng=(-30, 40), dtick=10, top=1192.2, bottom=1392.0, title_y=1305,
         design=None, r4=TWIST5_R4, r5b=TWIST5_R5_BEFORE, r5a=TWIST5_R5_AFTER,
         leg_first=11.2, leg_font=13.5),
    dict(title="2m平面性変位　mm", rng=(-15, 15), dtick=5, top=1484.6, bottom=1683.4, title_y=1597,
         design=None, r4=TWIST2_R4, r5b=TWIST2_R5_BEFORE, r5a=TWIST2_R5_AFTER,
         leg_first=13.5, leg_font=15),
]


def unzip(points):
    xs, ys = zip(*points)
    return list(xs), list(ys)


fig = go.Figure()
layout = dict(
    width=W, height=H, margin=dict(l=0, r=0, t=0, b=0, autoexpand=False),
    paper_bgcolor="white", plot_bgcolor="white",
    font=dict(family=FONT, color=TXT), showlegend=False,
)
shapes, annotations = [], []

for i, p in enumerate(PANELS, start=1):
    sfx = "" if i == 1 else str(i)
    xref, yref = f"x{sfx}", f"y{sfx}"

    series = []
    if p["design"] is not None:
        series.append((p["design"], SERIES_NAMES[0], C_DESIGN, DESIGN_DASH))
    series += [
        (p["r4"], SERIES_NAMES[1], C_R4, "solid"),
        (p["r5b"], SERIES_NAMES[2], C_R5B, "solid"),
        (p["r5a"], SERIES_NAMES[3], C_R5A, "solid"),
    ]
    for pts, name, color, dash in series:
        xs, ys = unzip(pts)
        fig.add_trace(go.Scatter(
            x=xs, y=ys, mode="lines", name=name, xaxis=xref, yaxis=yref,
            line=dict(color=color, width=2.3, dash=dash,
                      shape="linear" if dash != "solid" else "spline", smoothing=0.5),
            hoverinfo="skip",
        ))

    layout[f"xaxis{sfx}"] = dict(
        domain=[px(PLOT_L), px(PLOT_R)], anchor=yref, range=[450, 650],
        tickmode="array", tickvals=KM_TICKS, ticktext=[str(v) for v in KM_TICKS],
        showgrid=True, gridcolor=GRID, gridwidth=1.3, zeroline=False,
        showline=True, linecolor=GRID, linewidth=1.3, mirror=True,
        ticks="outside", ticklen=11, tickcolor="rgba(0,0,0,0)",
        tickfont=dict(size=19, color=TXT, family=FONT), fixedrange=True, automargin=False,
    )
    lo, hi = p["rng"]
    layout[f"yaxis{sfx}"] = dict(
        domain=[py(p["bottom"]), py(p["top"])], anchor=xref, range=[lo, hi],
        tick0=0, dtick=p["dtick"],
        showgrid=True, gridcolor=GRID, gridwidth=1.3,
        zeroline=True, zerolinecolor=ZERO, zerolinewidth=1.6,
        showline=True, linecolor=GRID, linewidth=1.3, mirror=True,
        ticks="outside", ticklen=13, tickcolor="rgba(0,0,0,0)",
        tickfont=dict(size=19, color=TXT, family=FONT), fixedrange=True, automargin=False,
    )

    # legend block in the upper-left corner of the plot area
    has_design = p["design"] is not None
    lx0, lx1, tx = (105, 150, 153) if has_design else (113, 146, 150)
    top, bottom = p["top"], p["bottom"]
    step = p["leg_font"] * LINE_SPACING
    entry_y = [top + p["leg_first"] + k * step for k in range(len(series))]

    shapes.append(dict(type="rect", xref="paper", yref="paper",
                       x0=px(99), x1=px(345 if has_design else 338),
                       y0=py(entry_y[-1] + 7), y1=py(top + 1.5),
                       fillcolor="white", line=dict(width=0), layer="above"))
    for ey, (_, _, color, dash) in zip(entry_y, series):
        shapes.append(dict(type="line", xref="paper", yref="paper",
                           x0=px(lx0), x1=px(lx1), y0=py(ey), y1=py(ey),
                           line=dict(color=color, width=2.6, dash=dash), layer="above"))
    annotations.append(dict(
        x=px(tx), y=py(sum(entry_y) / len(entry_y)), xref="paper", yref="paper",
        text="<br>".join(name for _, name, _, _ in series),
        showarrow=False, xanchor="left", yanchor="middle", align="left",
        font=dict(size=p["leg_font"], color="#111111", family=FONT),
    ))

    # vertical axis title
    annotations.append(dict(
        x=px(23), y=py(p["title_y"]), xref="paper", yref="paper", text=p["title"],
        textangle=-90, showarrow=False, xanchor="center", yanchor="middle",
        font=dict(size=23, color=TXT, family=FONT),
    ))
    # horizontal axis title
    annotations.append(dict(
        x=px(1167), y=py(min(bottom + 55, H - 15)), xref="paper", yref="paper", text="キロ程　m",
        showarrow=False, xanchor="right", yanchor="middle",
        font=dict(size=22, color=TXT, family=FONT),
    ))

    # travel-direction tag (pentagon arrow box)
    x0, x1, xt = 1016, 1151, 1170.5
    y0, y1 = top - 18, top + 18
    path = (f"M {px(x0)},{py(y0)} L {px(x1)},{py(y0)} L {px(xt)},{py((y0 + y1) / 2)} "
            f"L {px(x1)},{py(y1)} L {px(x0)},{py(y1)} Z")
    shapes.append(dict(type="path", path=path, xref="paper", yref="paper",
                       fillcolor="#DDEFEF", line=dict(color="#3A3A3A", width=1.5), layer="above"))
    annotations.append(dict(
        x=px(1088), y=py(top), xref="paper", yref="paper", text="列車進行方向",
        showarrow=False, xanchor="center", yanchor="middle",
        font=dict(size=20, color=TXT, family=FONT),
    ))

# derailment start position marker across all panels
shapes.insert(0, dict(type="line", xref="x", yref="paper", x0=DERAIL_KM, x1=DERAIL_KM,
                      y0=py(PANELS[-1]["bottom"]), y1=py(PANELS[0]["top"] - 2),
                      line=dict(color=C_R4, width=2.3, dash="dot"), layer="above"))
shapes.append(dict(type="rect", xref="paper", yref="paper",
                   x0=px(367), x1=px(640), y0=py(223), y1=py(191),
                   fillcolor="white", line=dict(color=C_R4, width=2, dash="dot"), layer="above"))
annotations.append(dict(
    x=px(503.5), y=py(207), xref="paper", yref="paper", text="脱線開始地点（0k526m）",
    showarrow=False, xanchor="center", yanchor="middle",
    font=dict(size=23.5, color=TXT, family=FONT),
))

layout["shapes"] = shapes
layout["annotations"] = annotations
fig.update_layout(**layout)
fig.write_html("out.html")
